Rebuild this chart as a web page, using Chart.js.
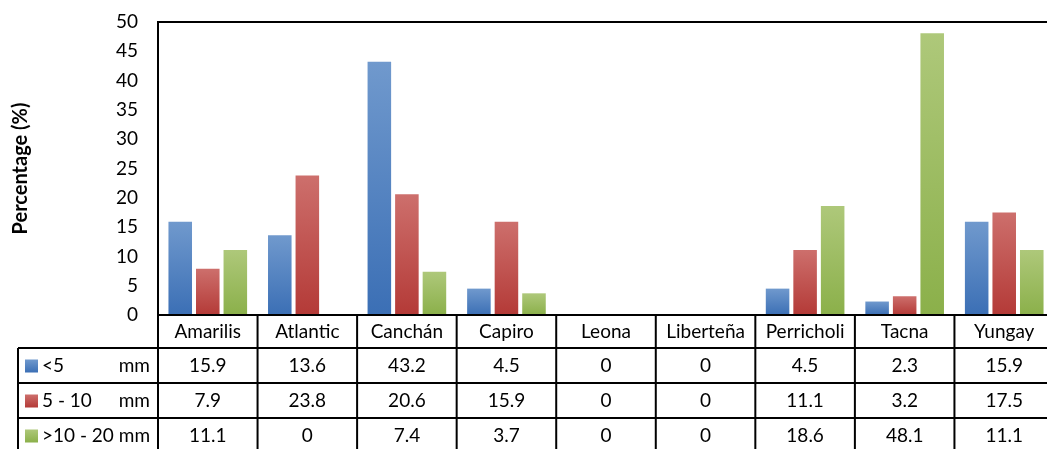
<!DOCTYPE html>
<html>
<head>
<meta charset="utf-8">
<script src="https://cdn.jsdelivr.net/npm/chart.js@4"></script>
<style>
  body { margin: 0; background: #fff; }
  #wrap { width: 1047px; height: 449px; overflow: hidden; }
</style>
</head>
<body>
<div id="wrap"><canvas id="myChart" width="1054" height="455"></canvas></div>
<script>
const categories = ['Amarilis', 'Atlantic', 'Canchán', 'Capiro', 'Leona', 'Liberteña', 'Perricholi', 'Tacna', 'Yungay'];
const lessThan5 = [15.9, 13.6, 43.2, 4.5, 0, 0, 4.5, 2.3, 15.9];
const from5to10 = [7.9, 23.8, 20.6, 15.9, 0, 0, 11.1, 3.2, 17.5];
const from10to20 = [11.1, 0, 7.4, 3.7, 0, 0, 18.6, 48.1, 11.1];
const rowLabels = [['<5', 'mm'], ['5 - 10', 'mm'], ['>10 - 20 mm', '']];

const fontFamily = 'Lato, "Open Sans", sans-serif';
const colorStops = [
  ['#7099cd', '#3b6fb5'],
  ['#cd6f6c', '#b43a37'],
  ['#aec87a', '#8bb04a'],
];

function barGradient(idx) {
  return (ctx) => {
    const chart = ctx.chart;
    if (!chart.chartArea || ctx.raw === undefined) return colorStops[idx][1];
    const y = chart.scales.y;
    const top = y.getPixelForValue(ctx.raw);
    const bottom = y.getPixelForValue(0);
    const g = chart.ctx.createLinearGradient(0, top, 0, Math.max(bottom, top + 1));
    g.addColorStop(0, colorStops[idx][0]);
    g.addColorStop(1, colorStops[idx][1]);
    return g;
  };
}

// draws the data table under the x axis
const dataTable = {
  id: 'dataTable',
  afterDraw(chart) {
    const ctx = chart.ctx;
    const x = chart.scales.x;
    const area = chart.chartArea;
    const colW = x.width / categories.length;
    const headerBottom = area.bottom + 33;
    const rowH = 35;
    const tableLeft = 18;
    const series = [lessThan5, from5to10, from10to20];

    ctx.save();
    ctx.strokeStyle = '#000';
    ctx.lineWidth = 2;
    ctx.beginPath();
    // plot frame top
    ctx.moveTo(area.left, area.top);
    ctx.lineTo(area.right, area.top);
    // header row top
    ctx.moveTo(area.left, area.bottom);
    ctx.lineTo(area.right, area.bottom);
    for (let r = 0; r <= 3; r++) {
      const yy = headerBottom + r * rowH;
      ctx.moveTo(tableLeft, yy);
      ctx.lineTo(area.right, yy);
    }
    ctx.moveTo(tableLeft, headerBottom);
    ctx.lineTo(tableLeft, headerBottom + 3 * rowH);
    ctx.moveTo(area.left, area.top);
    ctx.lineTo(area.left, headerBottom + 3 * rowH);
    for (let i = 1; i <= categories.length; i++) {
      const xx = area.left + i * colW;
      ctx.moveTo(xx, area.bottom);
      ctx.lineTo(xx, headerBottom + 3 * rowH);
    }
    ctx.stroke();

    ctx.font = '19px ' + fontFamily;
    ctx.fillStyle = '#000';
    ctx.textBaseline = 'middle';
    series.forEach((vals, r) => {
      const cy = headerBottom + r * rowH + rowH / 2;
      // legend key
      const g = ctx.createLinearGradient(0, cy - 6, 0, cy + 7);
      g.addColorStop(0, colorStops[r][0]);
      g.addColorStop(1, colorStops[r][1]);
      ctx.fillStyle = g;
      ctx.fillRect(25, cy - 6, 13, 13);
      ctx.fillStyle = '#000';
      ctx.textAlign = 'left';
      ctx.fillText(rowLabels[r][0], 42, cy);
      ctx.textAlign = 'right';
      if (rowLabels[r][1]) ctx.fillText(rowLabels[r][1], 150, cy);
      ctx.textAlign = 'center';
      vals.forEach((v, i) => {
        ctx.fillText(String(v), x.getPixelForValue(i), cy);
      });
    });
    ctx.restore();
  },
};

const context = document.getElementById('myChart').getContext('2d');

const chart = new Chart(context, {
  type: 'bar',
  data: {
    labels: categories,
    datasets: [
      { label: '<5 mm', data: lessThan5, backgroundColor: barGradient(0) },
      { label: '5 - 10 mm', data: from5to10, backgroundColor: barGradient(1) },
      { label: '>10 - 20 mm', data: from10to20, backgroundColor: barGradient(2) },
    ],
  },
  options: {
    responsive: false,
    animation: false,
    devicePixelRatio: 1,
    categoryPercentage: 0.83,
    barPercentage: 0.855,
    layout: { padding: { top: 22, bottom: 107, left: 0, right: 0 } },
    plugins: {
      legend: { display: false },
      tooltip: { enabled: false },
    },
    scales: {
      x: {
        grid: { display: false, drawTicks: false },
        border: { display: false },
        ticks: { color: '#000', font: { family: fontFamily, size: 19 }, padding: 5, maxRotation: 0 },
        afterFit: (scale) => {
          scale.height = 33;
          scale.paddingLeft = 0;
          scale.paddingRight = 0;
        },
      },
      y: {
        min: 0,
        max: 50,
        ticks: { stepSize: 5, color: '#000', font: { family: fontFamily, size: 19 }, padding: 20 },
        grid: { display: false, drawTicks: false },
        border: { display: true, color: '#000', width: 2 },
        title: {
          display: true,
          text: 'Percentage (%)',
          color: '#000',
          font: { family: fontFamily, size: 20, weight: 'bold' },
          padding: { top: 9, bottom: 0 },
        },
        afterFit: (scale) => {
          scale.width = 158;
          scale.paddingTop = 0;
          scale.paddingBottom = 0;
        },
      },
    },
  },
  plugins: [dataTable],
});
</script>
</body>
</html>
